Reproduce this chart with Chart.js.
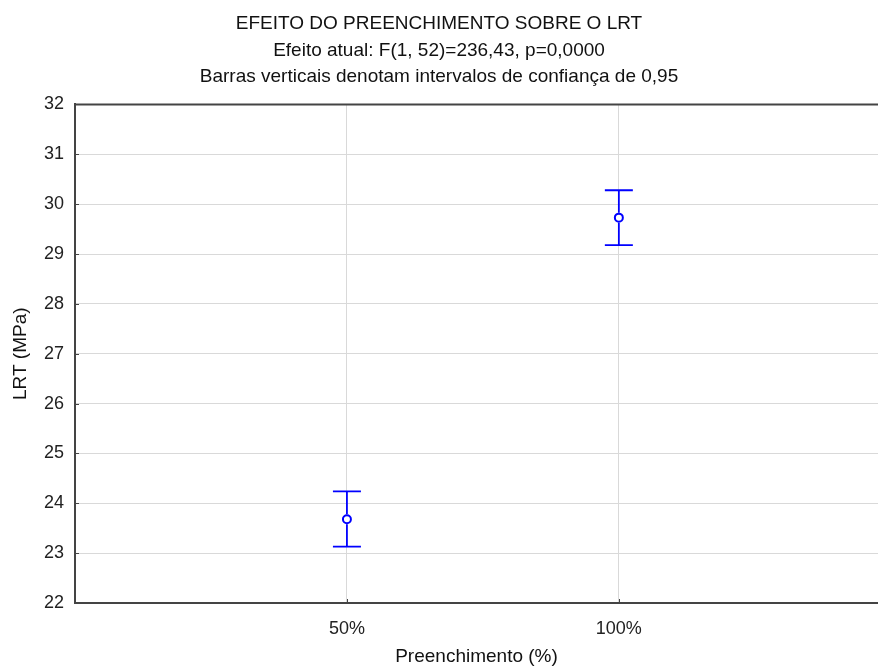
<!DOCTYPE html>
<html>
<head>
<meta charset="utf-8">
<script src="https://cdn.jsdelivr.net/npm/chart.js@4/dist/chart.umd.min.js"></script>
<style>
  html, body { margin: 0; padding: 0; background: #ffffff; }
  canvas { display: block; }
</style>
</head>
<body>
<canvas id="chart" width="878" height="666"></canvas>
<script>
// Group means of LRT (MPa) with 95% confidence limits
const categories = ['50%', '100%'];
const means = [23.68, 29.73];
const ciLower = [23.13, 29.18];
const ciUpper = [24.24, 30.28];
const yTicks = [22, 23, 24, 25, 26, 27, 28, 29, 30, 31, 32];

const titleLines = [
  'EFEITO DO PREENCHIMENTO SOBRE O LRT',
  'Efeito atual: F(1, 52)=236,43, p=0,0000',
  'Barras verticais denotam intervalos de confiança de 0,95'
];

const FONT = 'Liberation Sans, Arial, sans-serif';
const BLUE = '#0000ff';
const FRAME = '#444444';

const points = categories.map((c, i) => ({ x: i + 1, y: means[i] }));

// Vertical confidence bars with caps, plus the frame's top edge and inward tick marks
const extrasPlugin = {
  id: 'extras',
  afterDatasetsDraw(chart) {
    const { ctx, chartArea, scales } = chart;
    const xs = scales.x, ys = scales.y;
    ctx.save();

    // top edge of the frame
    ctx.strokeStyle = FRAME;
    ctx.lineWidth = 2;
    ctx.beginPath();
    ctx.moveTo(chartArea.left - 1, chartArea.top);
    ctx.lineTo(chartArea.right + 2, chartArea.top);
    ctx.stroke();

    // short inward ticks
    ctx.lineWidth = 1;
    yTicks.forEach(v => {
      const py = Math.round(ys.getPixelForValue(v)) + 0.5;
      ctx.beginPath();
      ctx.moveTo(chartArea.left, py);
      ctx.lineTo(chartArea.left + 4, py);
      ctx.stroke();
    });
    categories.forEach((c, i) => {
      const px = Math.round(xs.getPixelForValue(i + 1)) + 0.5;
      ctx.beginPath();
      ctx.moveTo(px, chartArea.bottom);
      ctx.lineTo(px, chartArea.bottom - 4);
      ctx.stroke();
    });

    // confidence bars
    ctx.strokeStyle = BLUE;
    ctx.lineWidth = 1.8;
    const cap = 14;
    categories.forEach((c, i) => {
      const px = xs.getPixelForValue(i + 1);
      const yLo = ys.getPixelForValue(ciLower[i]);
      const yHi = ys.getPixelForValue(ciUpper[i]);
      const yM = ys.getPixelForValue(means[i]);
      ctx.beginPath();
      ctx.moveTo(px, yHi);
      ctx.lineTo(px, yM - 5);
      ctx.moveTo(px, yM + 5);
      ctx.lineTo(px, yLo);
      ctx.moveTo(px - cap, yHi);
      ctx.lineTo(px + cap, yHi);
      ctx.moveTo(px - cap, yLo);
      ctx.lineTo(px + cap, yLo);
      ctx.stroke();
    });
    ctx.restore();
  }
};

new Chart(document.getElementById('chart'), {
  type: 'scatter',
  data: {
    datasets: [{
      data: points,
      pointStyle: 'circle',
      pointRadius: 4,
      pointHoverRadius: 4,
      borderWidth: 2,
      borderColor: BLUE,
      backgroundColor: '#ffffff'
    }]
  },
  options: {
    responsive: false,
    animation: false,
    layout: { padding: 0, autoPadding: false },
    plugins: {
      legend: { display: false },
      tooltip: { enabled: false },
      title: {
        display: true,
        text: titleLines,
        color: '#111111',
        font: { family: FONT, size: 19, weight: 'normal', lineHeight: 26.5 / 19 },
        padding: { top: 11, bottom: 14 }
      }
    },
    scales: {
      x: {
        type: 'linear',
        min: 0,
        max: 2.953,
        afterBuildTicks(scale) {
          scale.ticks = categories.map((c, i) => ({ value: i + 1 }));
        },
        afterFit(scale) {
          scale.height = 63;
          scale.paddingLeft = 0;
          scale.paddingRight = 0;
        },
        ticks: {
          color: '#222222',
          font: { family: FONT, size: 18 },
          padding: 15,
          callback: v => categories[v - 1]
        },
        grid: { color: '#d9d9d9', lineWidth: 1, drawTicks: false },
        border: { display: true, color: FRAME, width: 2 },
        title: {
          display: true,
          text: 'Preenchimento (%)',
          color: '#111111',
          font: { family: FONT, size: 19, lineHeight: 1 },
          padding: { top: 0, bottom: 0 }
        }
      },
      y: {
        min: 22,
        max: 32,
        afterBuildTicks(scale) {
          scale.ticks = yTicks.map(v => ({ value: v }));
        },
        afterFit(scale) {
          scale.width = 75;
          scale.paddingTop = 0;
          scale.paddingBottom = 0;
        },
        ticks: {
          color: '#222222',
          font: { family: FONT, size: 18 },
          padding: 11
        },
        grid: { color: '#d9d9d9', lineWidth: 1, drawTicks: false },
        border: { display: true, color: FRAME, width: 2 },
        title: {
          display: true,
          text: 'LRT (MPa)',
          color: '#111111',
          font: { family: FONT, size: 19, lineHeight: 1 },
          padding: { top: 11.5, bottom: 0 }
        }
      }
    }
  },
  plugins: [extrasPlugin]
});
</script>
</body>
</html>
